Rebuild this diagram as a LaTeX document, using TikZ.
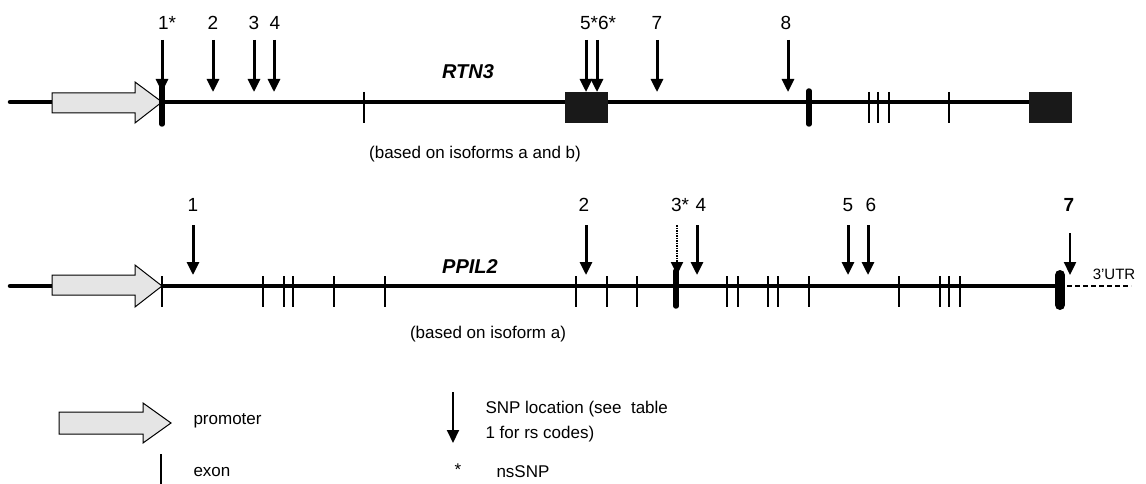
\documentclass[tikz,border=0pt]{standalone}
\usepackage{fontspec}
\setmainfont{Liberation Sans}
\usetikzlibrary{arrows.meta}

\begin{document}
\begin{tikzpicture}[x=1pt, y=-1pt,
    snp/.style={-{Triangle[width=12pt,length=13pt]}, line width=3pt},
    exon/.style={line width=2pt},
    bigexon/.style={line width=5.5pt, line cap=round},
    gene/.style={line width=4.5pt, line cap=round},
    prom/.style={draw, fill=gray!20, line width=1pt},
    num/.style={font=\fontsize{19}{22}\selectfont},
    txt/.style={font=\fontsize{17}{20}\selectfont}]
    \useasboundingbox (0,0) rectangle (1146,484);

    % RTN3
    \draw[gene] (10,102) -- (1050,102);
    \draw[prom] (162,102) -- ++(-27,-20) -- ++(0,11) -- ++(-83,0) -- ++(0,20) -- ++(83,0) -- ++(0,10) -- cycle;
    \foreach \x in {364,869,878,889,949} \draw[exon] (\x,92) -- (\x,123);
    \draw[bigexon] (162,86) -- (162,124);
    \draw[bigexon] (809,91) -- (809,124);
    \fill[black!90] (565,92) rectangle (608,123);
    \fill[black!90] (1029,92) rectangle (1072,123);
    \foreach \x in {162,213,254,274,586,597,657,788} \draw[snp] (\x,40) -- (\x,92);
    \node[num] (r1) at (167,23) {1*};
    \node[num] (r2) at (213,23) {2};
    \node[num] (r3) at (254,23) {3};
    \node[num] (r4) at (275,23) {4};
    \node[num] (r56) at (598,23) {5*6*};
    \node[num] (r7) at (657,23) {7};
    \node[num] (r8) at (786,23) {8};
    \node[font=\fontsize{20}{24}\selectfont\bfseries\itshape] (rtn) at (468,72) {RTN3};
    \node[txt] (rtniso) at (475,154) {(based on isoforms a and b)};

    % PPIL2
    \draw[gene] (10,286) -- (1058,286);
    \draw[prom] (162,286) -- ++(-27,-21) -- ++(0,10) -- ++(-83,0) -- ++(0,20) -- ++(83,0) -- ++(0,12) -- cycle;
    \foreach \x in {162,263,284,293,334,385,576,607,637,727,738,768,778,809,899,940,949,960}
        \draw[exon] (\x,276) -- (\x,307);
    \draw[bigexon] (676,271) -- (676,306);
    \draw[line width=10pt, line cap=round] (1060,275) -- (1060,305);
    \draw[line width=2pt, dash pattern=on 5pt off 3pt] (1067,286) -- (1131,286);
    \foreach \x in {193,586,697,848,868} \draw[snp] (\x,225) -- (\x,275);
    \draw[snp, line width=2pt, dash pattern=on 1.5pt off 1pt] (677,225) -- (677,275);
    \draw[snp, line width=2.4pt] (1070,233) -- (1070,275);
    \node[num] (p1) at (193,205) {1};
    \node[num] (p2) at (584,205) {2};
    \node[num] (p3) at (680,205) {3*};
    \node[num] (p4) at (701,205) {4};
    \node[num] (p5) at (848,205) {5};
    \node[num] (p6) at (871,205) {6};
    \node[num, font=\fontsize{19}{22}\selectfont\bfseries] (p7) at (1069,205) {7};
    \node[font=\fontsize{20}{24}\selectfont\bfseries\itshape] (ppil) at (470,267) {PPIL2};
    \node[font=\fontsize{15}{18}\selectfont] (utr) at (1114,274) {3'UTR};
    \node[txt] (ppiliso) at (488,334) {(based on isoform a)};

    % legend
    \draw[prom] (171,423) -- ++(-28,-20) -- ++(0,9) -- ++(-84,0) -- ++(0,22) -- ++(84,0) -- ++(0,9) -- cycle;
    \node[txt, anchor=west] (lprom) at (190,421) {promoter};
    \draw[line width=1.5pt] (161,454) -- (161,484);
    \node[txt, anchor=west] (lexon) at (190,472) {exon};
    \draw[snp, line width=2pt] (453,392) -- (453,443);
    \node[txt, anchor=west] (lsnp) at (482,409) {SNP location (see\ \ table};
    \node[txt, anchor=west] (lsnp2) at (482,434) {1 for rs codes)};
    \node[txt] (lstar) at (458,470) {*};
    \node[txt, anchor=west] (lns) at (493,472) {nsSNP};
\end{tikzpicture}
\end{document}
